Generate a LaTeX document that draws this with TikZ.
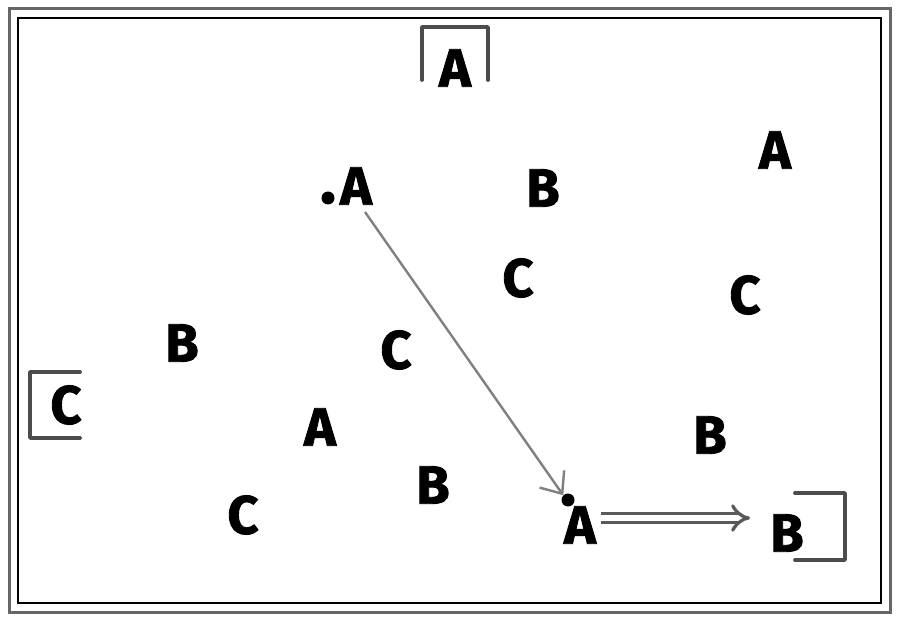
\documentclass[tikz,border=0pt]{standalone}
\usepackage{fontspec}
\setmainfont{Fira Sans}
\newfontfamily\letterfont{Fira Sans Bold}[FakeBold=1.6]
\usetikzlibrary{arrows.meta}
\begin{document}
\begin{tikzpicture}[x=1pt,y=-1pt,
  letter/.style={font=\fontsize{54}{54}\selectfont\letterfont, inner sep=0pt, text=black},
  bracket/.style={line width=3.8pt, draw=black!70, line cap=round, line join=round},
  dotmark/.style={circle, fill=black, inner sep=0pt, minimum size=13pt},
  thinarrow/.style={draw=black!50, line width=2.4pt, -{Straight Barb[length=18pt,width=30pt,line width=2.4pt]}},
  dblarrow/.style={draw=black!65, line width=3.2pt, double=white, double distance=6pt, -{Implies[length=18pt,width=44pt]}}]
\useasboundingbox (0,0) rectangle (900,620);
\fill[white] (0,0) rectangle (900,620);
% frame
\draw[line width=3pt, draw=black!60] (9,9) rectangle (890,612);
\draw[line width=1.8pt, draw=black] (18,18) rectangle (881,603);
% letters
\node[letter] (a1) at (455,68) {A};
\node[letter] (a2) at (356,186) {A};
\node[letter] (a3) at (775,150) {A};
\node[letter] (a4) at (320,427) {A};
\node[letter] (a5) at (580,525) {A};
\node[letter] (b1) at (543,188) {B};
\node[letter] (b2) at (182,343) {B};
\node[letter] (b3) at (710,435) {B};
\node[letter] (b4) at (433,485) {B};
\node[letter] (b5) at (787,533) {B};
\node[letter] (c1) at (518,278) {C};
\node[letter] (c2) at (745,295) {C};
\node[letter] (c3) at (396,350) {C};
\node[letter] (c4) at (66,405) {C};
\node[letter] (c5) at (243,515) {C};
% dots
\node[dotmark] (dot1) at (328,198) {};
\node[dotmark] (dot2) at (568,500) {};
% brackets
\draw[bracket] (422,80) -- (422,27) -- (488,27) -- (488,80);
\draw[bracket] (80,372) -- (30,372) -- (30,438) -- (80,438);
\draw[bracket] (795,493) -- (845,493) -- (845,560) -- (795,560);
% arrows
\coordinate (s1) at (365,212);
\draw[thinarrow] (s1) -- (dot2.north west);
\coordinate (d1) at (601,518);
\coordinate (d2) at (750,518);
\draw[dblarrow] (d1) -- (d2);
\end{tikzpicture}
\end{document}
